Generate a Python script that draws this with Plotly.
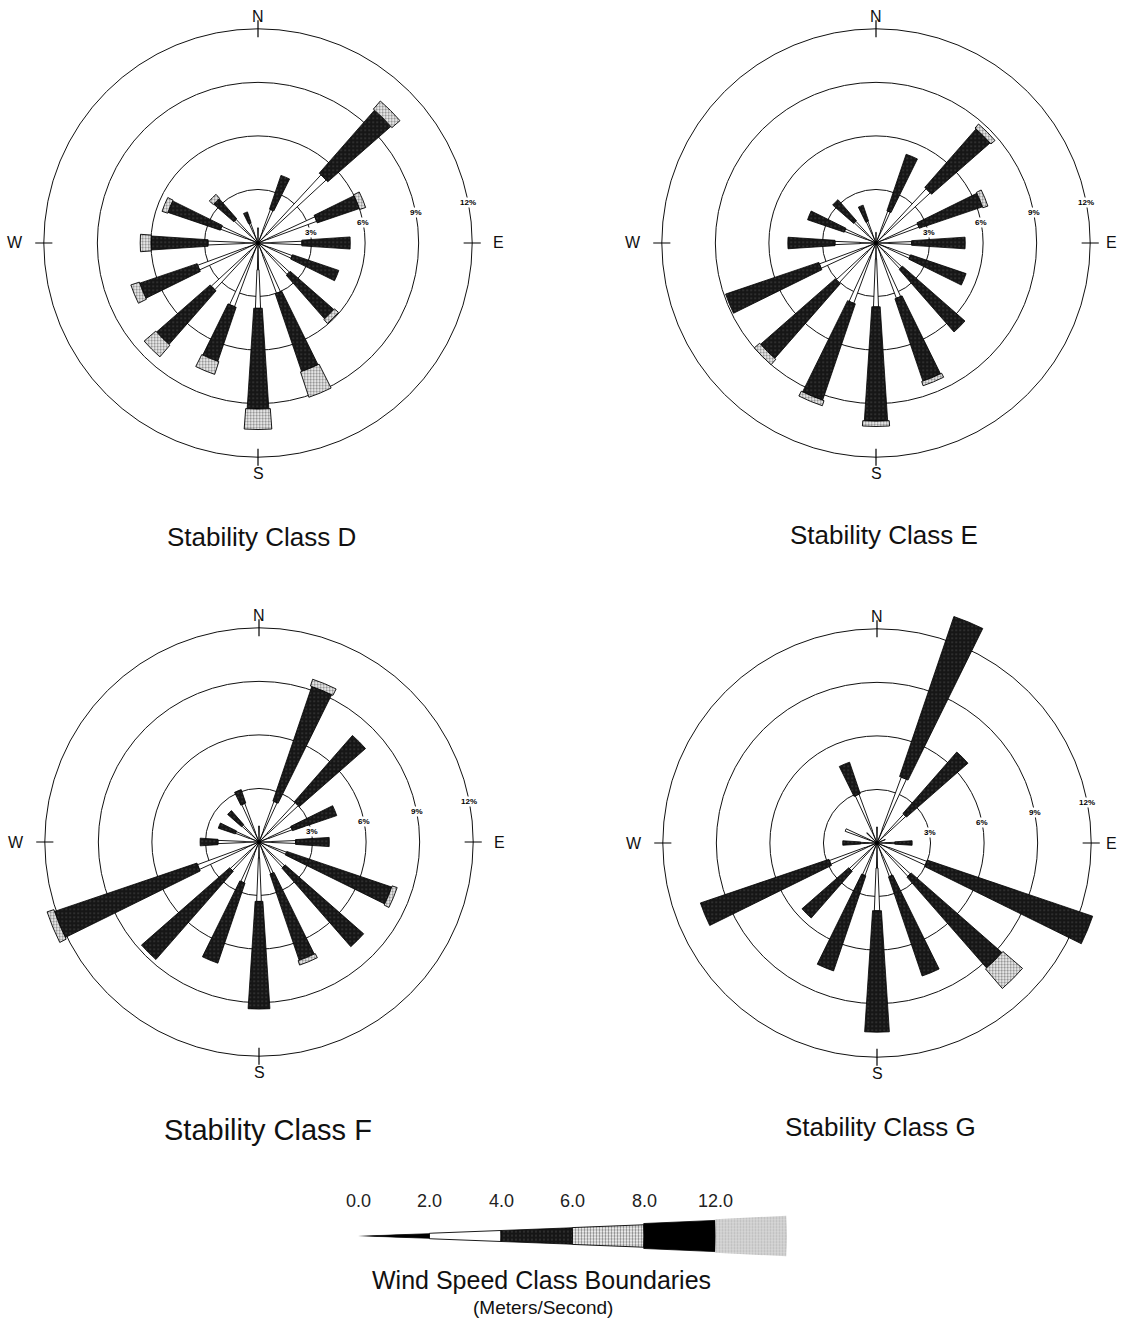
import math
import plotly.graph_objects as go

# ---------------------------------------------------------------- data
DIRECTIONS = ["N", "NNE", "NE", "ENE", "E", "ESE", "SE", "SSE",
              "S", "SSW", "SW", "WSW", "W", "WNW", "NW", "NNW"]
SPEED_CLASSES = ["0.0-2.0", "2.0-4.0", "4.0-6.0", "6.0-8.0", "8.0-12.0", ">12.0"]
BOUNDARY_LABELS = ["0.0", "2.0", "4.0", "6.0", "8.0", "12.0"]
RING_VALUES = [3, 6, 9, 12]
RING_LABELS = ["3%", "6%", "9%", "12%"]

# Frequency of occurrence (%) by direction for each wind speed class
D_0_2 = [0.85, 0.7, 0.7, 0.6, 0.8, 0.7, 0.7, 0.7, 1.5, 0.8, 0.7, 0.7, 0.8, 0.7, 0.6, 0.6]
D_2_4 = [0.0, 1.3, 4.5, 2.9, 1.66, 1.34, 1.7, 2.3, 2.16, 3.0, 2.86, 2.9, 2.0, 1.53, 1.2, 0.6]
D_4_6 = [0.0, 2.0, 4.7, 2.5, 2.71, 2.74, 3.25, 4.6, 5.64, 3.2, 4.0, 3.4, 3.2, 3.1, 1.5, 0.64]
D_6_8 = [0.0, 0.0, 0.6, 0.35, 0.0, 0.0, 0.3, 1.5, 1.15, 0.75, 0.86, 0.5, 0.6, 0.33, 0.3, 0.0]

E_0_2 = [0.6, 0.7, 0.7, 0.6, 0.7, 0.7, 0.7, 0.7, 0.9, 0.8, 0.7, 0.8, 0.9, 0.6, 0.6, 0.6]
E_2_4 = [0.0, 1.2, 3.44, 1.96, 1.3, 1.35, 1.27, 2.6, 2.68, 2.8, 2.33, 2.58, 1.4, 1.28, 1.06, 0.7]
E_4_6 = [0.0, 3.35, 4.36, 3.74, 3.0, 3.28, 4.66, 4.87, 6.4, 5.7, 5.57, 5.52, 2.64, 2.17, 1.57, 0.94]
E_6_8 = [0.0, 0.0, 0.3, 0.3, 0.0, 0.0, 0.0, 0.25, 0.3, 0.3, 0.4, 0.0, 0.0, 0.0, 0.0, 0.0]

F_0_2 = [0.9, 0.7, 0.7, 0.6, 0.7, 0.6, 0.6, 0.6, 0.9, 0.7, 0.7, 0.8, 0.8, 0.6, 0.6, 0.6]
F_2_4 = [0.0, 1.72, 2.3, 1.38, 1.35, 1.04, 1.34, 1.3, 2.43, 1.73, 1.48, 2.87, 1.5, 0.8, 0.7, 1.7]
F_4_6 = [0.0, 6.78, 4.94, 2.62, 1.89, 6.21, 5.86, 5.1, 6.03, 4.74, 6.58, 8.43, 1.0, 1.01, 1.04, 0.8]
F_6_8 = [0.0, 0.4, 0.0, 0.0, 0.0, 0.3, 0.0, 0.26, 0.0, 0.0, 0.0, 0.4, 0.0, 0.0, 0.0, 0.0]

G_0_2 = [0.9, 0.8, 0.6, 0.5, 0.5, 0.7, 0.7, 0.7, 1.4, 0.6, 0.6, 0.7, 0.5, 0.4, 0.8, 0.7]
G_2_4 = [0.0, 3.13, 1.6, 0.0, 0.5, 2.27, 1.84, 1.3, 2.4, 1.34, 1.5, 2.14, 0.42, 1.5, 0.0, 2.21]
G_4_6 = [0.0, 9.47, 4.58, 0.0, 0.97, 9.79, 6.77, 5.87, 6.8, 5.63, 3.49, 7.61, 1.0, 0.0, 0.0, 1.87]
G_6_8 = [0.0, 0.0, 0.0, 0.0, 0.0, 0.0, 1.45, 0.0, 0.0, 0.0, 0.0, 0.0, 0.0, 0.0, 0.0, 0.0]

ROSES = [
    ("Stability Class D", [D_0_2, D_2_4, D_4_6, D_6_8]),
    ("Stability Class E", [E_0_2, E_2_4, E_4_6, E_6_8]),
    ("Stability Class F", [F_0_2, F_2_4, F_4_6, F_6_8]),
    ("Stability Class G", [G_0_2, G_2_4, G_4_6, G_6_8]),
]

# ---------------------------------------------------------------- layout constants
W, H = 1121, 1321
FONT = "Liberation Sans, Arial, sans-serif"
PX_PER_PCT = 17.85          # radial scale of each rose
R_MAX = 13.6                # radial range of each rose
R_PX = PX_PER_PCT * R_MAX
CENTERS = [(258, 243), (876, 243), (259, 842), (877, 843)]   # rose centres (px)
TITLE_POS = [(261, 537, 26), (884, 535, 26), (268, 1130, 29), (880, 1127, 26)]
RING_LABEL_BEARING = 79     # degrees clockwise from north
# compass letter offsets from the rose centre (px)
COMPASS = [("N", 0, -227), ("E", 240, 0), ("S", 0, 230), ("W", -243, 0)]
TEXT_X_LIMIT = W - 10       # keep letters fully on the page

# petal angular width (degrees) per speed class
ROSE_WIDTHS = [2.5, 4.5, 7.5, 8.5, 9.5, 10.5]
LEGEND_WIDTHS = [3.6, 4.4, 4.4, 4.5, 5.0, 5.4]

CLASS_MARKERS = [
    dict(color="#000000", line=dict(color="black", width=0.8)),
    dict(color="#ffffff", line=dict(color="black", width=0.9)),
    dict(color="#161616", line=dict(color="black", width=0.8),
         pattern=dict(shape=".", fgcolor="#6e6e6e", bgcolor="#161616", size=4, solidity=0.15)),
    dict(color="#ffffff", line=dict(color="black", width=0.9),
         pattern=dict(shape=".", fgcolor="#000000", bgcolor="#ffffff", size=3, solidity=0.45)),
    dict(color="#000000", line=dict(color="black", width=0.8)),
    dict(color="#cfcfcf", line=dict(color="#cfcfcf", width=0),
         pattern=dict(shape=".", fgcolor="#9c9c9c", bgcolor="#d8d8d8", size=3, solidity=0.4)),
]

angles = [i * 360 / len(DIRECTIONS) for i in range(len(DIRECTIONS))]


def px_to_paper(x, y):
    return x / W, 1 - y / H


def text_note(x, y, text, size, color="#111111", **extra):
    ax, ay = px_to_paper(x, y)
    return dict(x=ax, y=ay, xref="paper", yref="paper", text=text, showarrow=False,
                xanchor="center", yanchor="middle",
                font=dict(family=FONT, size=size, color=color), **extra)


fig = go.Figure()
annotations = []
layout_polars = {}

for k, ((title, classes), (cx, cy), (tx, ty, tsize)) in enumerate(zip(ROSES, CENTERS, TITLE_POS)):
    name = "polar" if k == 0 else f"polar{k + 1}"
    x0, y1 = px_to_paper(cx - R_PX, cy - R_PX)
    x1, y0 = px_to_paper(cx + R_PX, cy + R_PX)
    layout_polars[name] = dict(
        domain=dict(x=[max(0, x0), min(1, x1)], y=[max(0, y0), min(1, y1)]),
        bgcolor="rgba(0,0,0,0)",
        barmode="stack",
        radialaxis=dict(range=[0, R_MAX], tickvals=RING_VALUES, showticklabels=False,
                        ticks="", showline=False, gridcolor="#111111", gridwidth=1.1),
        angularaxis=dict(rotation=90, direction="clockwise", showgrid=False,
                         showline=False, showticklabels=False, ticks=""),
    )

    for ci, vals in enumerate(classes):
        fig.add_trace(go.Barpolar(
            r=vals, theta=angles, width=[ROSE_WIDTHS[ci]] * len(angles),
            marker=CLASS_MARKERS[ci], subplot=name, name=SPEED_CLASSES[ci],
            showlegend=False, hoverinfo="skip"))

    # cardinal tick marks crossing the outer ring
    tick_r, tick_t = [], []
    for a in (0, 90, 180, 270):
        tick_r += [RING_VALUES[-1] - 0.48, RING_VALUES[-1] + 0.48, None]
        tick_t += [a, a, None]
    fig.add_trace(go.Scatterpolar(r=tick_r, theta=tick_t, mode="lines",
                                  line=dict(color="black", width=1.2),
                                  subplot=name, showlegend=False, hoverinfo="skip"))

    for letter, dx, dy in COMPASS:
        annotations.append(text_note(min(cx + dx, TEXT_X_LIMIT), cy + dy, letter, 16))

    # ring percentage labels, set on the ring with a small break behind them
    b = math.radians(RING_LABEL_BEARING)
    for rv, rl in zip(RING_VALUES, RING_LABELS):
        lx = cx + rv * PX_PER_PCT * math.sin(b)
        ly = cy - rv * PX_PER_PCT * math.cos(b)
        annotations.append(text_note(lx, ly, f"<b>{rl}</b>", 8, color="#000000",
                                     bgcolor="white", borderpad=0))

    annotations.append(text_note(tx, ty, title, tsize))

# ---------------------------------------------------------------- speed class key
KEY_X0, KEY_X1, KEY_Y = 358, 787, 1236
kx0, _ = px_to_paper(KEY_X0, 0)
kx1, _ = px_to_paper(KEY_X1, 0)
_, ky1 = px_to_paper(0, KEY_Y - 30)
_, ky0 = px_to_paper(0, KEY_Y + 30)
layout_polars["polar5"] = dict(
    domain=dict(x=[kx0, kx1], y=[ky0, ky1]),
    sector=[-3, 3],
    bgcolor="rgba(0,0,0,0)",
    barmode="stack",
    radialaxis=dict(range=[0, len(SPEED_CLASSES)], visible=False, showgrid=False),
    angularaxis=dict(rotation=0, direction="counterclockwise", visible=False, showgrid=False),
)
for ci, cname in enumerate(SPEED_CLASSES):
    fig.add_trace(go.Barpolar(r=[1], theta=[0], width=[LEGEND_WIDTHS[ci]],
                              marker=CLASS_MARKERS[ci], subplot="polar5", name=cname,
                              showlegend=False, hoverinfo="skip"))

step = (KEY_X1 - KEY_X0) / len(SPEED_CLASSES)
for i, lab in enumerate(BOUNDARY_LABELS):
    annotations.append(text_note(KEY_X0 + i * step, 1201, lab, 18, color="#222222"))

annotations.append(text_note(541, 1280, "Wind Speed Class Boundaries", 25))
annotations.append(text_note(543, 1307, "(Meters/Second)", 19))

fig.update_layout(
    width=W, height=H,
    margin=dict(l=0, r=0, t=0, b=0),
    paper_bgcolor="white",
    showlegend=False,
    annotations=annotations,
    **layout_polars,
)

fig.write_html("out.html")
